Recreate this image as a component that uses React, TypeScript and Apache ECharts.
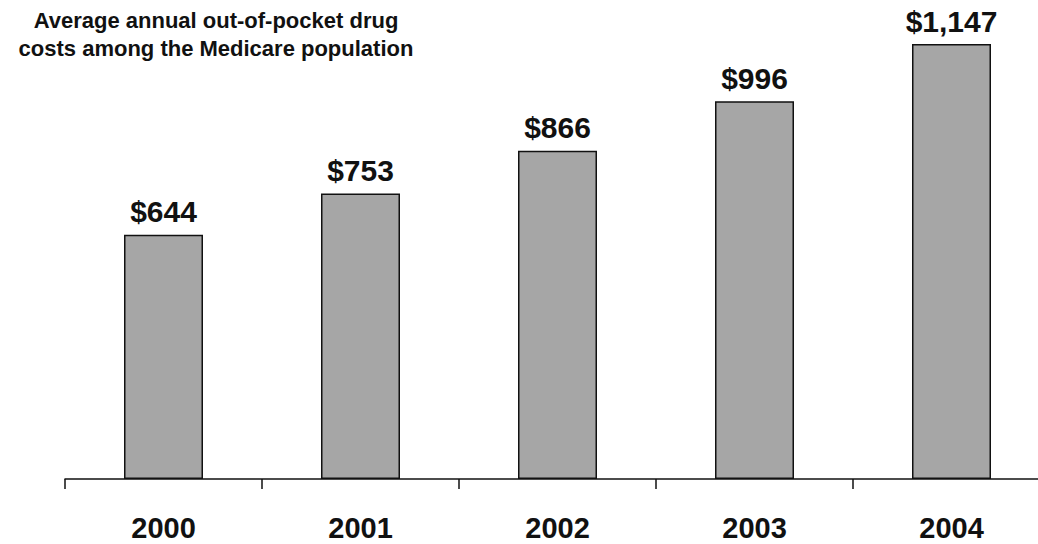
import React, { useEffect, useRef } from "react";
import * as echarts from "echarts";

const years = ["2000", "2001", "2002", "2003", "2004"];
const costs = [644, 753, 866, 996, 1147];
const titleLines = [
  "Average annual out-of-pocket drug",
  "costs among the Medicare population",
];

const FONT = "'Liberation Sans', Arial, sans-serif";

export default function App() {
  const ref = useRef<HTMLDivElement>(null);
  useEffect(() => {
    if (!ref.current) return;
    const chart = echarts.init(ref.current, undefined, { renderer: "svg" });
    chart.setOption({
      animation: false,
      backgroundColor: "#ffffff",
      title: {
        text: titleLines.join("\n"),
        left: 211,
        top: 1,
        textAlign: "center",
        textStyle: {
          fontFamily: FONT,
          fontSize: 22,
          fontWeight: "bold",
          lineHeight: 28,
          color: "#111",
        },
      },
      grid: {
        left: 65,
        right: 2,
        top: 24,
        bottom: 65,
        containLabel: false,
        outerBoundsMode: "none",
      },
      xAxis: {
        type: "category",
        data: years,
        axisLine: { show: true, lineStyle: { color: "#111", width: 1.5 } },
        axisTick: { show: true, length: 10, alignWithLabel: false, lineStyle: { color: "#111", width: 1.5 } },
        axisLabel: {
          margin: 34,
          fontFamily: FONT,
          fontSize: 29,
          fontWeight: "bold",
          color: "#111",
        },
      },
      yAxis: {
        type: "value",
        min: 0,
        max: 1200,
        show: false,
        splitLine: { show: false },
      },
      series: [
        {
          type: "bar",
          data: costs,
          barWidth: 79,
          clip: false,
          itemStyle: { color: "#a6a6a6", borderColor: "#111", borderWidth: 1.5 },
          label: {
            show: true,
            position: "top",
            distance: 8,
            fontFamily: FONT,
            fontSize: 30,
            fontWeight: "bold",
            color: "#111",
            formatter: (p: any) => "$" + Number(p.value).toLocaleString("en-US"),
          },
        },
      ],
    });
    return () => chart.dispose();
  }, []);
  return (
    <div style={{ position: "fixed", left: 0, top: 0, width: 1038, height: 544, overflow: "hidden" }}>
      <div ref={ref} style={{ position: "absolute", left: 0, top: 0, width: 1052, height: 544 }} />
    </div>
  );
}
